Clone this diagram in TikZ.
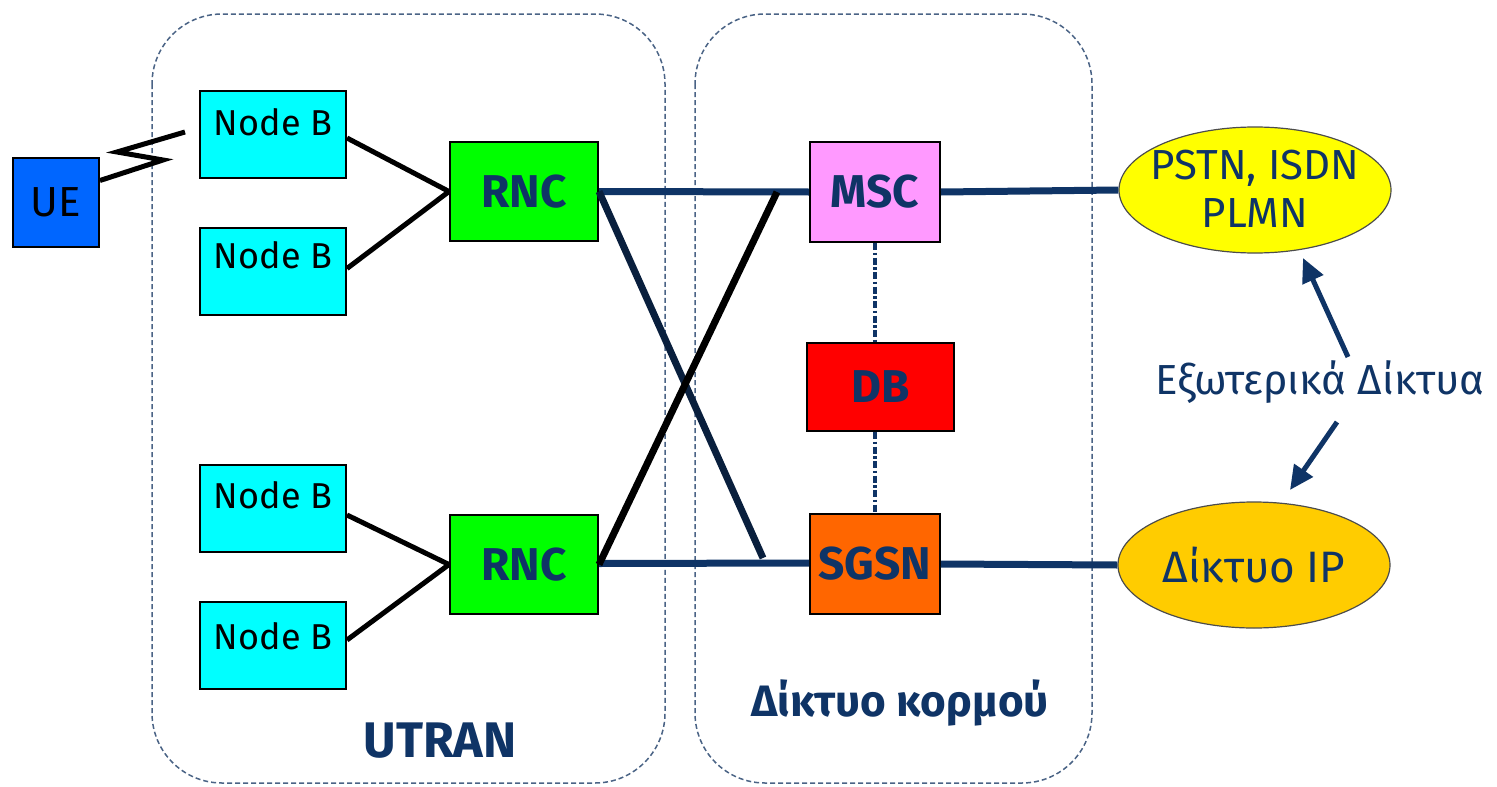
\documentclass[tikz,border=0pt]{standalone}
\usepackage{fontspec}
\setmainfont{Fira Sans}
\usetikzlibrary{arrows.meta,shapes.geometric}
\definecolor{navy}{HTML}{0F3466}
\definecolor{frame}{HTML}{4A6385}
\definecolor{uecol}{HTML}{0066FF}
\definecolor{cyanc}{HTML}{00FFFF}
\definecolor{greenc}{HTML}{00FF00}
\definecolor{redc}{HTML}{FF0000}
\definecolor{yellowc}{HTML}{FFFF00}
\definecolor{pinkc}{HTML}{FF99FF}
\definecolor{orangec}{HTML}{FF6600}
\definecolor{ipcol}{HTML}{FFCC00}
\tikzset{
  region/.style={draw=frame, line width=1.5pt, dash pattern=on 5pt off 3pt, rounded corners=70pt},
  box/.style={draw=black, line width=2pt, rectangle, inner sep=0pt},
  nb/.style={box, fill=cyanc, minimum width=146pt, minimum height=87pt},
  nbt/.style={font=\fontsize{36}{40}\selectfont, text=black},
  rnc/.style={box, fill=greenc, minimum width=148pt, minimum height=99pt},
  bold/.style={font=\fontsize{46}{50}\selectfont\bfseries, text=navy},
  net/.style={ellipse, draw=black!70, line width=1.2pt, minimum width=272pt, minimum height=126pt, inner sep=0pt},
  blk/.style={draw=black, line width=5pt},
  trunk/.style={draw=navy, line width=7pt},
  cross/.style={line width=7pt},
  dd/.style={draw=navy, line width=4.5pt, dash pattern=on 7pt off 2.5pt on 2.5pt off 2.5pt},
  arr/.style={draw=navy, line width=5pt, -{Triangle[length=24pt,width=22pt]}},
}
\begin{document}
\begin{tikzpicture}[x=1pt,y=-1pt]
\useasboundingbox (0,0) rectangle (1497,787);
% regions
\draw[region] (152,14) rectangle (665,783);
\draw[region] (695,14) rectangle (1092,783);
\node[font=\fontsize{50}{55}\selectfont\bfseries, text=navy] (utran) at (440,741) {UTRAN};
\node[font=\fontsize{44}{50}\selectfont\bfseries, text=navy] (core) at (900,703) {Δίκτυο κορμού};

% nodes
\node[box, fill=uecol, minimum width=86pt, minimum height=89pt, font=\fontsize{42}{46}\selectfont, text=black] (ue) at (56,202.5) {UE};
\node[nb, label={[nbt,yshift=12pt]center:Node B}] (nb1) at (273,134) {};
\node[nb, label={[nbt,yshift=16pt]center:Node B}] (nb2) at (273,271.5) {};
\node[nb, label={[nbt,yshift=13pt]center:Node B}] (nb3) at (273,508) {};
\node[nb, label={[nbt,yshift=9pt]center:Node B}] (nb4) at (273,645) {};
\node[rnc, bold] (rnc1) at (524,191.5) {RNC};
\node[rnc, bold] (rnc2) at (524,564.5) {RNC};
\node[box, fill=pinkc, minimum width=130pt, minimum height=100pt, bold] (msc) at (875,192) {MSC};
\node[box, fill=redc, minimum width=147pt, minimum height=88pt, bold] (db) at (880.5,387) {DB};
\node[box, fill=orangec, minimum width=130pt, minimum height=100pt, bold] (sgsn) at (875,564) {SGSN};
\node[net, fill=yellowc, label={[align=center, text=navy, font=\fontsize{42}{48}\selectfont, yshift=1pt]center:PSTN, ISDN\\PLMN}] (pstn) at (1255,190) {};
\node[net, fill=ipcol, text=navy, font=\fontsize{44}{48}\selectfont] (ip) at (1254,565) {Δίκτυο IP};
\node[text=navy, font=\fontsize{42}{46}\selectfont] (ext) at (1320,382) {Εξωτερικά Δίκτυα};

% radio link
\coordinate (rz) at (185,132);
\draw[blk] ([yshift=22pt]ue.east) -- (163,160) -- (117,152) -- (rz);

% Node B to RNC
\draw[blk] ([yshift=-4pt]nb1.east) -- (rnc1.west);
\draw[blk] ([yshift=3pt]nb2.east) -- (rnc1.west);
\draw[blk] ([yshift=-7pt]nb3.east) -- (rnc2.west);
\draw[blk] ([yshift=5pt]nb4.east) -- (rnc2.west);

% trunks
\coordinate (xa) at (777,192);
\coordinate (xb) at (763,558);
\draw[trunk] (rnc1.east) -- (msc.west);
\draw[trunk] ([yshift=1pt]rnc2.east) -- ([yshift=1pt]sgsn.west);
\draw[cross, draw=navy!60!black] (rnc1.east) -- (xb);
\draw[cross, draw=black] (rnc2.east) -- (xa);
\draw[trunk] (msc.east) -- (pstn.west);
\draw[trunk] (sgsn.east) -- (ip.west);

% dash-dot links
\draw[dd] (msc.south) -- (msc.south |- db.north);
\draw[dd] (sgsn.north |- db.south) -- (sgsn.north);

% arrows
\coordinate (a1) at (1348,357);
\coordinate (a2) at (1337,422);
\draw[arr] (a1) -- (1303,258);
\draw[arr] (a2) -- (1290,490);
\end{tikzpicture}
\end{document}
